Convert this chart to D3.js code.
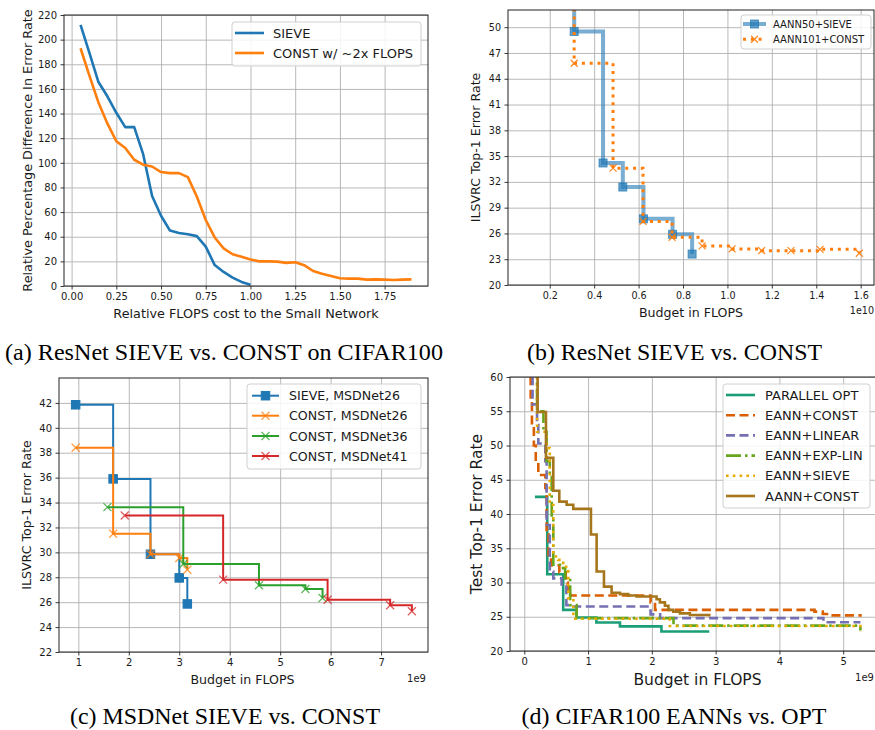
<!DOCTYPE html>
<html>
<head>
<meta charset="utf-8">
<script src="https://cdn.jsdelivr.net/npm/d3@7/dist/d3.min.js"></script>
<style>
body { margin: 0; background: #fff; }
text { font-family: "DejaVu Sans", sans-serif; fill: #1a1a1a; }
.cap { font-family: "Liberation Serif", "Times New Roman", serif; fill: #000; }
</style>
</head>
<body>
<div class="fig"></div>
<script>
// ---- (a) ResNet SIEVE vs CONST on CIFAR100 ----
var aSieveX = [0.05,0.1,0.15,0.2,0.25,0.3,0.35,0.4,0.45,0.5,0.55,0.6,0.65,0.7,0.75,0.8,0.85,0.9,0.95,1.0];
var aSieveY = [212,189,165.6,154,140.6,129,129,107,73,57,45,43,42,40.5,32,17,11.4,6.8,3.3,1];
var aConstX = [0.05,0.1,0.15,0.2,0.25,0.3,0.35,0.4,0.45,0.5,0.55,0.6,0.65,0.7,0.75,0.8,0.85,0.9,0.95,1.0,
               1.05,1.1,1.15,1.2,1.25,1.3,1.35,1.4,1.45,1.5,1.55,1.6,1.65,1.7,1.75,1.8,1.85,1.9];
var aConstY = [193,170.5,149,132,117.5,112,102.5,98.5,97,92.5,91.6,91.6,88.4,72.6,53.6,39.4,30.5,25.8,23.7,21.5,
               20,20,19.8,18.8,19.3,16.9,12.2,10,8.2,6.3,6,6,5.2,5.4,5.2,4.9,5.2,5.4];
var aXTicks = [0,0.25,0.5,0.75,1.0,1.25,1.5,1.75];
var aYTicks = [0,20,40,60,80,100,120,140,160,180,200,220];

// ---- (b) ResNet ImageNet, step curves (x in 1e10 FLOPS) ----
var bSieve = [[0.087,75],[0.31,49.5],[0.44,34.2],[0.529,31.4],[0.622,27.7],[0.753,25.9],[0.841,23.6]];
var bConst = [[0.087,70],[0.31,45.8],[0.485,33.6],[0.62,27.4],[0.751,25.55],[0.886,24.55],[1.021,24.2],
              [1.154,24.0],[1.286,24.0],[1.417,24.15],[1.594,23.7]];
var bXTicks = [0.2,0.4,0.6,0.8,1.0,1.2,1.4,1.6];
var bYTicks = [20,23,26,29,32,35,38,41,44,47,50];

// ---- (c) MSDNet (x in 1e9 FLOPS) ----
var cSieve26 = [[0.947,41.85],[1.69,35.9],[2.43,29.85],[3.0,27.95],[3.16,25.86]];
var cConst26 = [[0.947,38.4],[1.69,31.5],[2.43,29.85],[3.0,29.55],[3.16,28.6]];
var cConst36 = [[1.577,33.63],[3.08,29.07],[4.58,27.36],[5.5,27.06],[5.84,26.34]];
var cConst41 = [[1.92,32.96],[3.87,27.81],[5.94,26.2],[7.18,25.75],[7.61,25.27]];
var cXTicks = [1,2,3,4,5,6,7];
var cYTicks = [22,24,26,28,30,32,34,36,38,40,42];

// ---- (d) CIFAR100 EANNs vs OPT (x in 1e9 FLOPS) ----
var dOpt = [[0.167,42.5],[0.36,31.2],[0.61,26.0],[0.82,24.9],[1.13,24.15],[1.5,23.6],[2.15,22.85],[2.9,22.85]];
var dConst = [[0.09,62],[0.1,57],[0.12,53],[0.15,50],[0.18,47.5],[0.22,45.7],[0.33,43.8],[0.35,37],[0.38,34],
              [0.42,32.5],[0.55,31.5],[0.65,30.0],[0.68,28.8],[0.72,28.1],[1.98,27.1],[2.05,26.0],[4.55,25.75],
              [4.68,25.4],[4.8,25.2],[5.27,25.0]];
var dLinear = [[0.12,62],[0.13,56],[0.2,53],[0.22,50.3],[0.33,47.7],[0.35,38.4],[0.4,31.6],[0.455,30.6],
               [0.585,29.4],[0.66,26.7],[0.72,26.5],[1.98,25.35],[2.13,24.8],[4.69,24.2],[5.27,24.2]];
var dExpLin = [[0.2,62],[0.2,55],[0.3,52],[0.35,47.7],[0.4,45.5],[0.43,39.4],[0.455,32.6],[0.56,32.1],
               [0.64,30.6],[0.72,26.7],[0.82,24.8],[2.34,23.7],[5.16,23.7],[5.27,23.0]];
var dSieve = [[0.2,62],[0.2,52],[0.35,49.6],[0.4,41.3],[0.455,33.8],[0.53,33.3],[0.61,32.3],[0.69,27.7],
              [0.77,24.7],[2.28,23.65],[5.16,23.65],[5.27,22.8]];
var dAann = [[0.209,70],[0.209,54.9],[0.34,48.2],[0.455,43.4],[0.549,41.8],[0.664,41.35],[0.768,40.75],
             [1.045,37.0],[1.134,31.6],[1.249,29.4],[1.369,28.5],[1.5,28.3],[1.63,28.1],[1.76,27.95],
             [2.074,27.55],[2.126,27.1],[2.205,26.6],[2.26,26.0],[2.335,25.75],[2.44,25.5],[2.597,25.25],[2.9,25.05]];
var dXTicks = [0,1,2,3,4,5];
var dYTicks = [20,25,30,35,40,45,50,55,60];
var dNames = ["PARALLEL OPT","EANN+CONST","EANN+LINEAR","EANN+EXP-LIN","EANN+SIEVE","AANN+CONST"];
var dColors = ["#1b9e77","#d95f02","#7570b3","#66a61e","#e6ab02","#a6761d"];
var dDash = [null,"9,4.5","9,4.5","15,4,2.5,4","2.6,4.2",null];

var captions = ["(a) ResNet SIEVE vs. CONST on CIFAR100","(b) ResNet SIEVE vs. CONST",
                "(c) MSDNet SIEVE vs. CONST","(d) CIFAR100 EANNs vs. OPT"];

var W = 875, H = 730;
var svg = d3.select(".fig").append("svg").attr("width", W).attr("height", H);

var clipId = 0;
function panel(o) {
  var x = d3.scaleLinear().domain(o.xd).range([o.l, o.r]);
  var y = d3.scaleLinear().domain(o.yd).range([o.b, o.t]);
  var g = svg.append("g");
  var id = "clip" + (clipId++);
  svg.append("clipPath").attr("id", id).append("rect")
      .attr("x", o.l).attr("y", o.t).attr("width", o.r - o.l).attr("height", o.b - o.t);

  // grid
  g.append("g").attr("transform", "translate(0," + o.b + ")")
      .call(d3.axisBottom(x).tickValues(o.xt).tickSize(-(o.b - o.t)).tickFormat(""))
      .call(function(s){ s.select(".domain").remove(); s.selectAll("line").attr("stroke","#b0b0b0").attr("stroke-width",0.9); });
  g.append("g").attr("transform", "translate(" + o.l + ",0)")
      .call(d3.axisLeft(y).tickValues(o.yt).tickSize(-(o.r - o.l)).tickFormat(""))
      .call(function(s){ s.select(".domain").remove(); s.selectAll("line").attr("stroke","#b0b0b0").attr("stroke-width",0.9); });

  // ticks + labels
  var xa = g.append("g").attr("transform", "translate(0," + o.b + ")")
      .call(d3.axisBottom(x).tickValues(o.xt).tickSize(3.5).tickPadding(3.5).tickFormat(o.xf));
  var ya = g.append("g").attr("transform", "translate(" + o.l + ",0)")
      .call(d3.axisLeft(y).tickValues(o.yt).tickSize(3.5).tickPadding(3.5).tickFormat(o.yf || d3.format("d")));
  [xa, ya].forEach(function(a){
    a.select(".domain").remove();
    a.selectAll("line").attr("stroke", "#222").attr("stroke-width", 0.9);
    a.selectAll("text").attr("font-size", o.tfs || 10).attr("font-family", "DejaVu Sans").attr("fill", "#1a1a1a");
  });

  var plot = g.append("g").attr("clip-path", "url(#" + id + ")");
  var top = svg.append("g");
  function frame() {
    top.append("rect").attr("x", o.l).attr("y", o.t).attr("width", o.r - o.l).attr("height", o.b - o.t)
        .attr("fill", "none").attr("stroke", "#222").attr("stroke-width", 1);
  }
  // axis labels
  top.append("text").attr("x", (o.l + Math.min(o.r, W)) / 2 + (o.xlo || 0)).attr("y", o.xly)
      .attr("text-anchor", "middle").attr("font-size", o.lfs).text(o.xl);
  top.append("text").attr("transform", "translate(" + o.ylx + "," + ((o.t + o.b) / 2) + ") rotate(-90)")
      .attr("text-anchor", "middle").attr("font-size", o.lfs2 || o.lfs).text(o.yl);
  return { x: x, y: y, plot: plot, top: top, frame: frame };
}

function marker(sel, kind, size, color, op) {
  if (kind === "s") {
    sel.append("rect").attr("x", -size / 2).attr("y", -size / 2).attr("width", size).attr("height", size)
        .attr("fill", color).attr("fill-opacity", op).attr("stroke", color).attr("stroke-opacity", op).attr("stroke-width", 1);
  } else {
    var a = size / 2;
    sel.append("path").attr("d", "M" + (-a) + "," + (-a) + "L" + a + "," + a + "M" + (-a) + "," + a + "L" + a + "," + (-a))
        .attr("fill", "none").attr("stroke", color).attr("stroke-opacity", op).attr("stroke-width", 1.3);
  }
}

function legend(p, box, items, fs) {
  var lg = p.top.append("g");
  lg.append("rect").attr("x", box[0]).attr("y", box[1]).attr("width", box[2] - box[0]).attr("height", box[3] - box[1])
      .attr("rx", 3).attr("fill", "#fff").attr("fill-opacity", 0.85).attr("stroke", "#d0d0d0").attr("stroke-width", 1);
  items.forEach(function(it) {
    var l = lg.append("line").attr("x1", it.h0).attr("x2", it.h1).attr("y1", it.y).attr("y2", it.y)
        .attr("stroke", it.c).attr("stroke-width", it.w).attr("stroke-opacity", it.op || 1);
    if (it.dash) l.attr("stroke-dasharray", it.dash);
    if (it.m) marker(lg.append("g").attr("transform", "translate(" + ((it.h0 + it.h1) / 2) + "," + it.y + ")"), it.m, it.ms, it.c, it.mop || 1);
    lg.append("text").attr("x", it.tx).attr("y", it.y).attr("dy", "0.36em").attr("font-size", fs).text(it.t);
  });
}

// ================= panel (a) =================
var pa = panel({ l: 64, r: 428, t: 15, b: 286, xd: [-0.0425, 1.9925], yd: [0, 220],
  xt: aXTicks, yt: aYTicks, xf: d3.format(".2f"), tfs: 10,
  xl: "Relative FLOPS cost to the Small Network", xly: 317.5, lfs: 12.8,
  yl: "Relative Percentage Difference In Error Rate", ylx: 31.5 });
var lineA = d3.line().x(function(d){ return pa.x(d[0]); }).y(function(d){ return pa.y(d[1]); });
pa.plot.append("path").datum(d3.zip(aSieveX, aSieveY)).attr("d", lineA)
    .attr("fill", "none").attr("stroke", "#1f77b4").attr("stroke-width", 2.6).attr("stroke-linejoin", "round");
pa.plot.append("path").datum(d3.zip(aConstX, aConstY)).attr("d", lineA)
    .attr("fill", "none").attr("stroke", "#ff7f0e").attr("stroke-width", 2.6).attr("stroke-linejoin", "round");
pa.frame();
legend(pa, [232, 22, 421, 66], [
  { y: 33, h0: 235, h1: 264, tx: 273, c: "#1f77b4", w: 2.6, t: "SIEVE" },
  { y: 53, h0: 235, h1: 264, tx: 273, c: "#ff7f0e", w: 2.6, t: "CONST w/ ~2x FLOPS" }
], 13);

// ================= panel (b) =================
var pb = panel({ l: 508, r: 874, t: 10, b: 285, xd: [0.012, 1.66], yd: [20, 52],
  xt: bXTicks, yt: bYTicks, xf: d3.format(".1f"), tfs: 9.6,
  xl: "Budget in FLOPS", xly: 316.5, lfs: 12.6, xlo: 0,
  yl: "ILSVRC Top-1 Error Rate", ylx: 480 });
var stepB = d3.line().curve(d3.curveStepAfter).x(function(d){ return pb.x(d[0]); }).y(function(d){ return pb.y(d[1]); });
pb.plot.append("path").datum(bSieve).attr("d", stepB).attr("fill", "none")
    .attr("stroke", "#1f77b4").attr("stroke-opacity", 0.6).attr("stroke-width", 4);
pb.plot.selectAll(".mb").data(bSieve).enter().append("g")
    .attr("transform", function(d){ return "translate(" + pb.x(d[0]) + "," + pb.y(d[1]) + ")"; })
    .each(function(){ marker(d3.select(this), "s", 8, "#1f77b4", 0.7); });
pb.plot.append("path").datum(bConst).attr("d", stepB).attr("fill", "none")
    .attr("stroke", "#ff7f0e").attr("stroke-width", 3).attr("stroke-dasharray", "3,4.8");
pb.plot.selectAll(".mc").data(bConst).enter().append("g")
    .attr("transform", function(d){ return "translate(" + pb.x(d[0]) + "," + pb.y(d[1]) + ")"; })
    .each(function(){ marker(d3.select(this), "x", 7, "#ff7f0e", 0.9); });
pb.frame();
pb.top.append("text").attr("x", 874).attr("y", 313.5).attr("text-anchor", "end").attr("font-size", 9.6).text("1e10");
legend(pb, [741, 15, 871, 49], [
  { y: 24, h0: 743, h1: 766, tx: 773, c: "#1f77b4", w: 4, op: 0.6, m: "s", ms: 8, mop: 0.7, t: "AANN50+SIEVE" },
  { y: 39.3, h0: 743, h1: 766, tx: 773, c: "#ff7f0e", w: 3, dash: "3,4.8", m: "x", ms: 7, mop: 0.9, t: "AANN101+CONST" }
], 10);

// ================= panel (c) =================
var pc = panel({ l: 59, r: 428, t: 378, b: 652, xd: [0.617, 7.93], yd: [22, 44],
  xt: cXTicks, yt: cYTicks, xf: d3.format("d"), tfs: 10,
  xl: "Budget in FLOPS", xly: 683.5, lfs: 12.6, xlo: -1,
  yl: "ILSVRC Top-1 Error Rate", ylx: 31 });
var stepC = d3.line().curve(d3.curveStepAfter).x(function(d){ return pc.x(d[0]); }).y(function(d){ return pc.y(d[1]); });
var cSeries = [
  { d: cSieve26, c: "#1f77b4", m: "s", ms: 8.5, t: "SIEVE, MSDNet26" },
  { d: cConst26, c: "#ff7f0e", m: "x", ms: 8, t: "CONST, MSDNet26" },
  { d: cConst36, c: "#2ca02c", m: "x", ms: 8, t: "CONST, MSDNet36" },
  { d: cConst41, c: "#d62728", m: "x", ms: 8, t: "CONST, MSDNet41" }
];
cSeries.forEach(function(s) {
  pc.plot.append("path").datum(s.d).attr("d", stepC).attr("fill", "none").attr("stroke", s.c).attr("stroke-width", 2);
  pc.plot.selectAll(null).data(s.d).enter().append("g")
      .attr("transform", function(d){ return "translate(" + pc.x(d[0]) + "," + pc.y(d[1]) + ")"; })
      .each(function(){ marker(d3.select(this), s.m, s.ms, s.c, s.m === "s" ? 1 : 0.75); });
});
pc.frame();
pc.top.append("text").attr("x", 426).attr("y", 681.5).attr("text-anchor", "end").attr("font-size", 10).text("1e9");
legend(pc, [247, 384, 421, 469], cSeries.map(function(s, i) {
  return { y: [395.7, 415.7, 436, 456][i], h0: 252, h1: 279, tx: 289, c: s.c, w: 2, m: s.m, ms: s.ms, mop: s.m === "s" ? 1 : 0.75, t: s.t };
}), 12.6);

// ================= panel (d) =================
var pd = panel({ l: 510, r: 877, t: 377, b: 651, xd: [-0.224, 5.53], yd: [20, 60],
  xt: dXTicks, yt: dYTicks, xf: d3.format("d"), tfs: 10,
  xl: "Budget in FLOPS", xly: 684.5, lfs: 15.5, xlo: 5,
  yl: "Test Top-1 Error Rate", ylx: 482 });
var stepD = d3.line().curve(d3.curveStepAfter).x(function(d){ return pd.x(d[0]); }).y(function(d){ return pd.y(d[1]); });
[dOpt, dConst, dLinear, dExpLin, dSieve, dAann].forEach(function(s, i) {
  var p = pd.plot.append("path").datum(s).attr("d", stepD).attr("fill", "none")
      .attr("stroke", dColors[i]).attr("stroke-width", 2.6);
  if (dDash[i]) p.attr("stroke-dasharray", dDash[i]);
});
pd.frame();
pd.top.append("text").attr("x", 874).attr("y", 681).attr("text-anchor", "end").attr("font-size", 10).text("1e9");
legend(pd, [723, 384, 870, 508], dNames.map(function(n, i) {
  return { y: 395 + i * 20.2, h0: 726, h1: 755, tx: 765, c: dColors[i], w: 2.6, dash: dDash[i], t: n };
}), 13);

// ================= captions =================
var capPos = [[224, 360, 438], [674.5, 360, 295], [225, 723.5, 310], [674, 723.5, 305]];
captions.forEach(function(c, i) {
  svg.append("text").attr("class", "cap").attr("x", capPos[i][0]).attr("y", capPos[i][1])
      .attr("text-anchor", "middle").attr("font-size", 22.5)
      .attr("textLength", capPos[i][2]).attr("lengthAdjust", "spacingAndGlyphs").text(c);
});
</script>
</body>
</html>
